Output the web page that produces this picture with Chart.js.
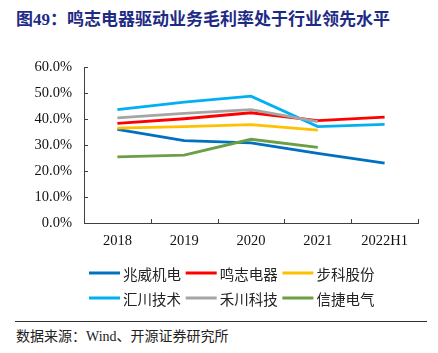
<!DOCTYPE html>
<html>
<head>
<meta charset="utf-8">
<script src="https://cdn.jsdelivr.net/npm/chart.js@4"></script>
<style>
  body { margin: 0; width: 438px; height: 353px; background: #fff; position: relative; overflow: hidden; }
  #title { position: absolute; left: 16px; top: 10px; font: bold 17px "Liberation Serif", "Noto Sans CJK SC"; color: #1E2B85; line-height: 19px; white-space: nowrap; }
  #chart { position: absolute; left: 0; top: 40px; }
  #rule { position: absolute; left: 15px; top: 321px; width: 412px; height: 1px; background: #333; }
  #source { position: absolute; left: 16px; top: 329px; font: 14px "Liberation Serif", "Noto Sans CJK SC"; color: #222; line-height: 16px; white-space: nowrap; }
</style>
</head>
<body>
<div id="title">图49：鸣志电器驱动业务毛利率处于行业领先水平</div>
<canvas id="chart" width="438" height="270"></canvas>
<div id="rule"></div>
<div id="source">数据来源：Wind、开源证券研究所</div>
<script>
const years = ['2018', '2019', '2020', '2021', '2022H1'];
const companies = ['兆威机电', '鸣志电器', '步科股份', '汇川技术', '禾川科技', '信捷电气'];
const colors = ['#0070C0', '#FF0000', '#FFC000', '#00B0F0', '#A5A5A5', '#6A9F45'];

// gross margin, %
const zhaowei = [36.0, 31.7, 30.8, 26.8, 23.0];
const mingzhi = [38.3, 40.1, 42.4, 39.4, 40.7];
const buke    = [36.5, 37.1, 37.8, 35.7, null];
const huichuan = [43.6, 46.5, 48.8, 37.1, 37.9];
const hechuan = [40.4, 42.2, 43.6, 39.0, null];
const xinjie  = [25.4, 26.1, 32.2, 29.1, null];

const yTicks = [0, 10, 20, 30, 40, 50, 60];
const series = [zhaowei, mingzhi, buke, huichuan, hechuan, xinjie];

const axisColor = '#404040';

// small inward tick marks like the original
const innerTicks = {
  id: 'innerTicks',
  afterDatasetsDraw(chart) {
    const { ctx, chartArea, scales: { x, y } } = chart;
    ctx.save();
    ctx.strokeStyle = axisColor;
    ctx.lineWidth = 1;
    ctx.beginPath();
    yTicks.forEach(v => {
      const py = Math.round(y.getPixelForValue(v)) + 0.5;
      ctx.moveTo(chartArea.left, py);
      ctx.lineTo(chartArea.left + 4, py);
    });
    const half = (x.getPixelForValue(1) - x.getPixelForValue(0)) / 2;
    for (let i = 0; i < years.length; i++) {
      const px = Math.round(x.getPixelForValue(i) + half) + 0.5;
      ctx.moveTo(px, chartArea.bottom);
      ctx.lineTo(px, chartArea.bottom - 4);
    }
    ctx.stroke();
    ctx.restore();
  }
};

// legend in two rows of three, drawn under the axis
const lineLegend = {
  id: 'lineLegend',
  afterDraw(chart) {
    const { ctx, chartArea } = chart;
    const startX = chartArea.left + 5;
    const stepX = 96.7;
    const rowY = [chartArea.bottom + 50, chartArea.bottom + 75];
    ctx.save();
    ctx.font = '14.5px "Noto Sans CJK SC"';
    ctx.textBaseline = 'middle';
    ctx.fillStyle = '#222';
    chart.data.datasets.forEach((ds, i) => {
      const lx = startX + (i % 3) * stepX;
      const ly = rowY[Math.floor(i / 3)];
      ctx.strokeStyle = ds.borderColor;
      ctx.lineWidth = 3;
      ctx.beginPath();
      ctx.moveTo(lx, ly);
      ctx.lineTo(lx + 31, ly);
      ctx.stroke();
      ctx.fillText(ds.label, lx + 34, ly + 1);
    });
    ctx.restore();
  }
};

new Chart(document.getElementById('chart'), {
  type: 'line',
  data: {
    labels: years,
    datasets: companies.map((name, i) => ({
      label: name,
      data: series[i],
      borderColor: colors[i],
      backgroundColor: colors[i],
      borderWidth: 2.8,
      pointRadius: 0,
      tension: 0,
      order: -i
    }))
  },
  options: {
    responsive: false,
    animation: false,
    layout: { padding: { top: 27, right: 20, bottom: 57, left: 0 } },
    plugins: { legend: { display: false }, tooltip: { enabled: false } },
    scales: {
      x: {
        offset: true,
        grid: { display: false, drawTicks: false, offset: true },
        border: { display: true, color: axisColor, width: 1 },
        ticks: { color: '#111', padding: 9, font: { family: 'Liberation Serif', size: 14.5 }, maxRotation: 0 },
        afterFit(scale) { scale.height = 30; }
      },
      y: {
        min: 0,
        max: 60,
        grid: { display: false, drawTicks: false },
        border: { display: true, color: axisColor, width: 1 },
        ticks: {
          stepSize: 10,
          padding: 12,
          color: '#111',
          font: { family: 'Liberation Serif', size: 14.5 },
          callback: v => v.toFixed(1) + '%'
        },
        afterFit(scale) { scale.width = 84; }
      }
    }
  },
  plugins: [innerTicks, lineLegend]
});
</script>
</body>
</html>
